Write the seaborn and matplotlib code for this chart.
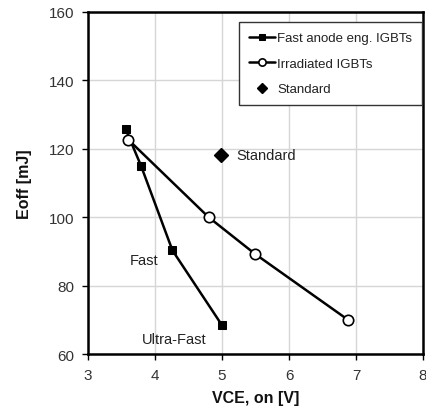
import matplotlib
matplotlib.use("Agg")
import matplotlib.pyplot as plt
import seaborn as sns
import pandas as pd

fast_x = [3.56, 3.79, 4.26, 5.0]
fast_y = [125.8, 115.1, 90.3, 68.4]
irr_x = [3.6, 4.8, 5.49, 6.88]
irr_y = [122.7, 100.0, 89.3, 70.0]
std_x = [4.98]
std_y = [118.1]

sns.set_theme(style="whitegrid")
plt.rcParams['font.family'] = ['Liberation Sans', 'DejaVu Sans']

fig = plt.figure(figsize=(4.26, 4.14), dpi=100)
ax = fig.add_axes([0.2066, 0.1425, 0.7864, 0.8261])

df_f = pd.DataFrame({"x": fast_x, "y": fast_y})
df_i = pd.DataFrame({"x": irr_x, "y": irr_y})
df_s = pd.DataFrame({"x": std_x, "y": std_y})

sns.lineplot(data=df_f, x="x", y="y", ax=ax, color="black", lw=1.8, marker="s",
             markersize=6, markerfacecolor="black", markeredgecolor="black",
             sort=False, label="Fast anode eng. IGBTs")
sns.lineplot(data=df_i, x="x", y="y", ax=ax, color="black", lw=1.8, marker="o",
             markersize=7.5, markerfacecolor="white", markeredgecolor="black",
             markeredgewidth=1.2, sort=False, label="Irradiated IGBTs")
ax.plot(df_s["x"], df_s["y"], ls="none", marker="D", color="black", markersize=7.5,
        label="Standard")

ax.set_xlim(3, 8)
ax.set_ylim(60, 160)
ax.set_xticks([3, 4, 5, 6, 7, 8])
ax.set_yticks([60, 80, 100, 120, 140, 160])
ax.grid(True, color="#d6d6d6", lw=1)
for s in ax.spines.values():
    s.set_color("black")
    s.set_linewidth(1.8)
ax.tick_params(axis="both", which="major", direction="out", length=4, width=1,
               color="black", labelsize=11, labelcolor="#333333", pad=6, left=True, bottom=True)

ax.set_xlabel("VCE, on [V]", fontsize=11.5, fontweight="bold", labelpad=6, color="#111111")
ax.set_ylabel("Eoff [mJ]", fontsize=11.5, fontweight="bold", labelpad=12, color="#111111")

ax.text(5.22, 118.1, "Standard", fontsize=10.5, va="center", ha="left", color="#222222")
ax.text(3.63, 87.5, "Fast", fontsize=10.5, va="center", ha="left", color="#222222")
ax.text(3.8, 64.3, "Ultra-Fast", fontsize=10.5, va="center", ha="left", color="#222222")

leg = ax.legend(loc="upper right", bbox_to_anchor=(0.997, 0.97), fontsize=9.5,
                frameon=True, fancybox=False, edgecolor="#333333", framealpha=1,
                handlelength=2.0, handletextpad=0.15, borderpad=0.75, labelspacing=1.0,
                borderaxespad=0, markerscale=0.7)
leg.get_frame().set_linewidth(1.0)
for t in leg.get_texts():
    t.set_color("#222222")

fig.savefig("out.png", dpi=100)
